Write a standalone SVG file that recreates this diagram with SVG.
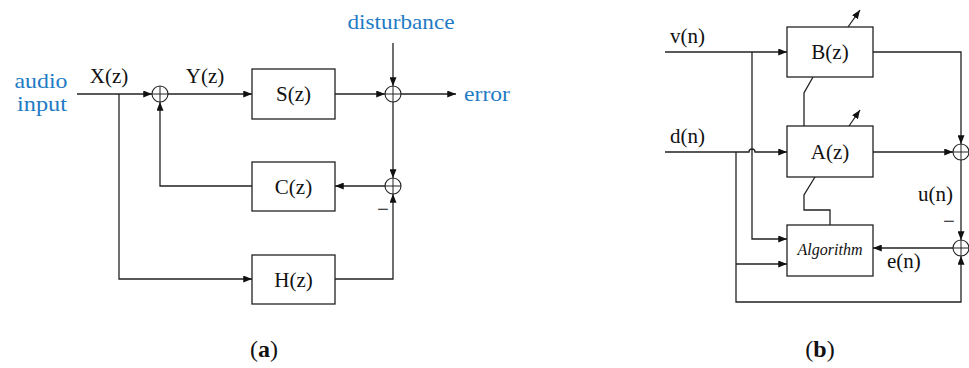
<svg xmlns="http://www.w3.org/2000/svg" width="969" height="368" viewBox="0 0 969 368">
<style>
text{font-family:"Liberation Serif","DejaVu Serif",serif;font-size:21px;fill:#111}
.blue{fill:#1f7bc4}
.c{text-anchor:middle}
.box{fill:#fff;stroke:#222;stroke-width:1.3}
.sum{fill:#fff;stroke:#222;stroke-width:1.1}
.w{fill:none;stroke:#222;stroke-width:1.3}
.p{fill:none;stroke:#222;stroke-width:1}
.alg{font-style:italic;font-size:16px}
.cap{font-size:24px}
</style>
<defs>
<marker id="ah" viewBox="0 0 10 8" refX="10" refY="4" markerWidth="9" markerHeight="7" markerUnits="userSpaceOnUse" orient="auto">
<path d="M0,0 L10,4 L0,8 Z" fill="#111"/>
</marker>
</defs>
<g id="connectors">
<path class="w" d="M77,94 H152" marker-end="url(#ah)"/>
<path class="w" d="M168,94 H252" marker-end="url(#ah)"/>
<path class="w" d="M335,94 H385" marker-end="url(#ah)"/>
<path class="w" d="M393,43 V86" marker-end="url(#ah)"/>
<path class="w" d="M401,94 H456" marker-end="url(#ah)"/>
<path class="w" d="M393,102 V178" marker-end="url(#ah)"/>
<path class="w" d="M385,186 H335" marker-end="url(#ah)"/>
<path class="w" d="M252,186 H160 V102" marker-end="url(#ah)"/>
<path class="w" d="M119,94 V279 H252" marker-end="url(#ah)"/>
<path class="w" d="M335,279 H393 V194" marker-end="url(#ah)"/>
<path class="w" d="M665,52 H787" marker-end="url(#ah)"/>
<path class="w" d="M848,27 L860,10" marker-end="url(#ah)"/>
<path class="w" d="M849,126 L860,110" marker-end="url(#ah)"/>
<path class="w" d="M873,52 H961 V144" marker-end="url(#ah)"/>
<path class="w" d="M813,77 L804,93 V126"/>
<path class="w" d="M873,152 H953" marker-end="url(#ah)"/>
<path class="w" d="M665,152 H749 A3,3 0 0 1 755,152 H787" marker-end="url(#ah)"/>
<path class="w" d="M736,152 V302 H961 V256" marker-end="url(#ah)"/>
<path class="w" d="M736,264 H787" marker-end="url(#ah)"/>
<path class="w" d="M752,52 V239 H787" marker-end="url(#ah)"/>
<path class="w" d="M815,177 L804,195 V210 H830 V225"/>
<path class="w" d="M961,160 V240" marker-end="url(#ah)"/>
<path class="w" d="M953,248 H873" marker-end="url(#ah)"/>
</g>
<g id="labels-a">
<text class="blue c" x="41" y="88" textLength="53" lengthAdjust="spacingAndGlyphs">audio</text>
<text class="blue c" x="42" y="111" textLength="50" lengthAdjust="spacingAndGlyphs">input</text>
<text class="c" x="109" y="83">X(z)</text>
<text class="c" x="205" y="83">Y(z)</text>
<text class="blue c" x="401" y="29" textLength="107" lengthAdjust="spacingAndGlyphs">disturbance</text>
<text class="blue" x="464" y="101" textLength="46" lengthAdjust="spacingAndGlyphs">error</text>
<text class="c" x="383" y="216">−</text>
</g>
<g id="sum1"><circle class="sum" cx="160" cy="94" r="8"/><path class="p" d="M152,94 H168 M160,86 V102"/></g>
<g id="sum2"><circle class="sum" cx="393" cy="94" r="8"/><path class="p" d="M385,94 H401 M393,86 V102"/></g>
<g id="sum3"><circle class="sum" cx="393" cy="186" r="8"/><path class="p" d="M385,186 H401 M393,178 V194"/></g>
<g id="S"><rect class="box" x="252" y="69" width="83" height="50"/><text class="c" x="293.5" y="101">S(z)</text></g>
<g id="C"><rect class="box" x="252" y="162" width="83" height="49"/><text class="c" x="293.5" y="193.5">C(z)</text></g>
<g id="H"><rect class="box" x="252" y="255" width="83" height="49"/><text class="c" x="293.5" y="286.5">H(z)</text></g>
<g id="labels-b">
<text x="670" y="43">v(n)</text>
<text x="670" y="143">d(n)</text>
<text x="918" y="201">u(n)</text>
<text class="c" x="949" y="228">−</text>
<text x="887" y="268">e(n)</text>
</g>
<g id="B"><rect class="box" x="787" y="27" width="86" height="50"/><text class="c" x="830" y="59">B(z)</text></g>
<g id="A"><rect class="box" x="787" y="126" width="86" height="51"/><text class="c" x="830" y="159">A(z)</text></g>
<g id="Alg"><rect class="box" x="787" y="225" width="86" height="51"/><text class="c alg" x="830" y="255">Algorithm</text></g>
<g id="sum4"><circle class="sum" cx="961" cy="152" r="8"/><path class="p" d="M953,152 H969 M961,144 V160"/></g>
<g id="sum5"><circle class="sum" cx="961" cy="248" r="8"/><path class="p" d="M953,248 H969 M961,240 V256"/></g>
<g id="captions">
<text class="c cap" x="264" y="357">(<tspan font-weight="bold">a</tspan>)</text>
<text class="c cap" x="820" y="357">(<tspan font-weight="bold">b</tspan>)</text>
</g>
</svg>
